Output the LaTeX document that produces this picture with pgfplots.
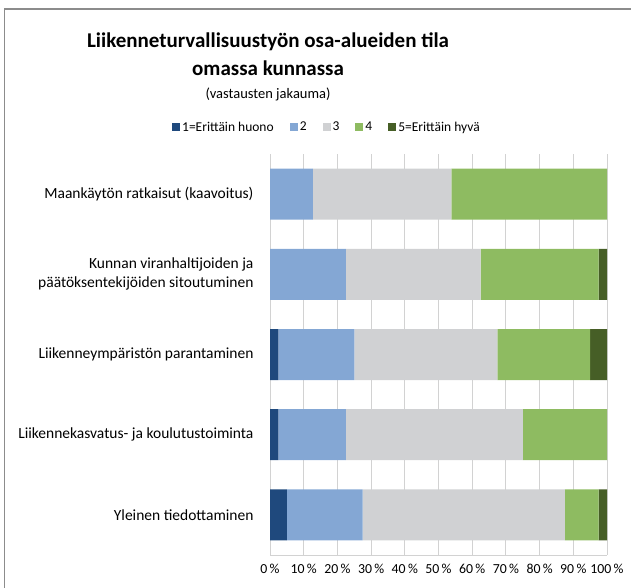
\documentclass[border=0pt]{standalone}
\usepackage{pgfplots}
\pgfplotsset{compat=1.18}
\usepackage{fontspec}
\setmainfont{Carlito}
\definecolor{c1}{RGB}{31,73,125}
\definecolor{c2}{RGB}{132,167,212}
\definecolor{c3}{RGB}{208,209,211}
\definecolor{c4}{RGB}{142,187,97}
\definecolor{c5}{RGB}{70,94,38}
\definecolor{gridc}{RGB}{210,210,210}
\definecolor{framec}{RGB}{140,140,140}
\begin{document}
\begin{tikzpicture}
\useasboundingbox (0pt,0pt) rectangle (631pt,588pt);
\draw[framec, line width=1.4pt] (4.5pt,0pt) -- (4.5pt,579pt) -- (631pt,579pt);
\node[font=\bfseries\fontsize{21}{24}\selectfont] at (268pt,546pt) {Liikenneturvallisuustyön osa-alueiden tila};
\node[font=\bfseries\fontsize{21}{24}\selectfont] at (268pt,520pt) {omassa kunnassa};
\node[font=\fontsize{14.5}{16}\selectfont] at (268pt,494pt) {(vastausten jakauma)};
\begin{axis}[
  at={(270pt,33pt)}, anchor=south west,
  scale only axis, width=337pt, height=401pt,
  xbar stacked, bar width=51pt,
  xmin=0, xmax=100, ymin=-0.5, ymax=4.5,
  y dir=reverse,
  ytick={0,1,2,3,4},
  yticklabels={{Maankäytön ratkaisut (kaavoitus)},{Kunnan viranhaltijoiden ja\\päätöksentekijöiden sitoutuminen},{Liikenneympäristön parantaminen},{Liikennekasvatus- ja koulutustoiminta},{Yleinen tiedottaminen}},
  yticklabel style={align=right, font=\fontsize{15.5}{19}\selectfont, xshift=-13pt},
  xtick={0,10,...,100},
  xticklabels={0\,\%,10\,\%,20\,\%,30\,\%,40\,\%,50\,\%,60\,\%,70\,\%,80\,\%,90\,\%,100\,\%},
  xticklabel style={font=\fontsize{13.8}{15}\selectfont, yshift=-6pt},
  major tick length=0pt,
  xmajorgrids, grid style={gridc, line width=1pt},
  axis line style={gridc, line width=1pt},
  axis x line*=bottom, axis y line*=left,
  separate axis lines,
  x axis line style={-}, y axis line style={-},
  legend columns=5,
  legend style={at={(0.169,1.067)}, anchor=center, draw=none, fill=none,
    font=\fontsize{13.5}{15}\selectfont,
    /tikz/every even column/.append style={column sep=14pt}},
  legend image code/.code={\fill[#1] (0pt,-4pt) rectangle (8pt,4pt);},
]
\addplot[fill=c1, draw=none] coordinates {(0,0) (0,1) (2.5,2) (2.5,3) (5,4)};
\addplot[fill=c2, draw=none] coordinates {(12.7,0) (22.5,1) (22.5,2) (20,3) (22.5,4)};
\addplot[fill=c3, draw=none] coordinates {(41.1,0) (40,1) (42.5,2) (52.5,3) (60,4)};
\addplot[fill=c4, draw=none] coordinates {(46.2,0) (35,1) (27.5,2) (25,3) (10,4)};
\addplot[fill=c5, draw=none] coordinates {(0,0) (2.5,1) (5,2) (0,3) (2.5,4)};
\legend{1=Erittäin huono,2,3,4,5=Erittäin hyvä}
\end{axis}
\end{tikzpicture}
\end{document}
